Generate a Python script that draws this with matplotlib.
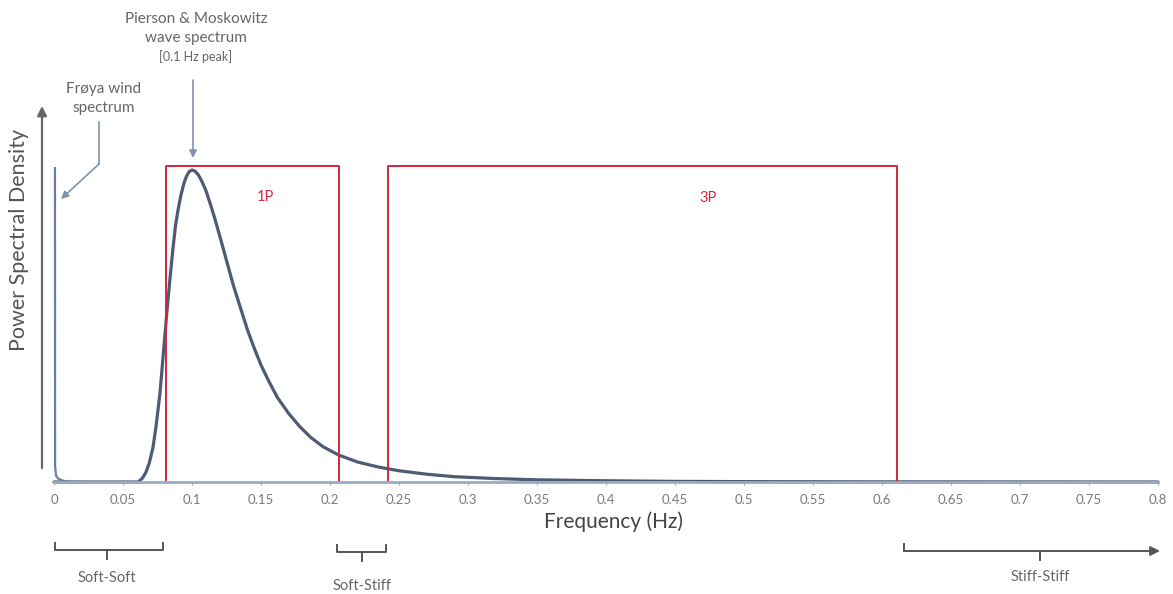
import matplotlib
matplotlib.use("Agg")
import matplotlib.pyplot as plt

plt.rcParams["font.family"] = ["Lato", "DejaVu Sans"]

# Pierson & Moskowitz wave spectrum (normalised PSD)
wave_f = [0.0, 0.05, 0.0609, 0.064, 0.0665, 0.069, 0.0717, 0.074, 0.0768, 0.079,
          0.0819, 0.084, 0.086, 0.088, 0.090, 0.092, 0.094, 0.096, 0.098, 0.100,
          0.102, 0.1045, 0.107, 0.110, 0.113, 0.1165, 0.120, 0.125, 0.130, 0.135,
          0.140, 0.145, 0.150, 0.156, 0.162, 0.170, 0.178, 0.186, 0.195, 0.206,
          0.220, 0.235, 0.250, 0.270, 0.290, 0.320, 0.350, 0.400, 0.450, 0.500,
          0.600, 0.800]
wave_psd = [0.0, 0.0, 0.0, 0.012, 0.03, 0.06, 0.11, 0.18, 0.285, 0.40,
            0.55, 0.65, 0.74, 0.82, 0.875, 0.92, 0.955, 0.98, 0.995, 1.0,
            0.997, 0.985, 0.965, 0.935, 0.895, 0.845, 0.79, 0.71, 0.63, 0.56,
            0.49, 0.43, 0.375, 0.32, 0.27, 0.22, 0.178, 0.143, 0.113, 0.087,
            0.064, 0.048, 0.036, 0.025, 0.017, 0.011, 0.007, 0.004, 0.002, 0.0012,
            0.0005, 0.0]

# Frøya wind spectrum (spike near 0 Hz)
wind_f = [0.0007, 0.0008, 0.0015, 0.003, 0.006, 0.009, 0.013, 0.02]
wind_psd = [1.006, 0.05, 0.02, 0.011, 0.005, 0.002, 0.0005, 0.0]

# excitation bands
band_names = ["1P", "3P"]
band_lo = [0.0812, 0.242]
band_hi = [0.2065, 0.611]
band_top = 1.013

x_ticks = [0, 0.05, 0.1, 0.15, 0.2, 0.25, 0.3, 0.35, 0.4, 0.45, 0.5,
           0.55, 0.6, 0.65, 0.7, 0.75, 0.8]
x_tick_labels = ["0", "0.05", "0.1", "0.15", "0.2", "0.25", "0.3", "0.35", "0.4",
                 "0.45", "0.5", "0.55", "0.6", "0.65", "0.7", "0.75", "0.8"]

W, H = 1173, 594
fig = plt.figure(figsize=(W / 100, H / 100), dpi=100)

# overlay in pixel coordinates for annotations
ov = fig.add_axes([0, 0, 1, 1])
ov.set_xlim(0, W)
ov.set_ylim(H, 0)
ov.axis("off")

# data axes: x 0..0.8 -> px 54..1158, y 0 at px 482, 1.0 at px 170
ymax = 1.2
bottom_px = 482
top_px = bottom_px - ymax * 312
ax = fig.add_axes([54 / W, 1 - bottom_px / H, 1104 / W, (bottom_px - top_px) / H])
ax.set_xlim(0, 0.8)
ax.set_ylim(0, ymax)
ax.patch.set_alpha(0)
for s in ["top", "right", "left"]:
    ax.spines[s].set_visible(False)
ax.spines["bottom"].set_color("#9aabc4")
ax.spines["bottom"].set_linewidth(2)
ax.set_yticks([])
ax.set_xticks(x_ticks)
ax.set_xticklabels(x_tick_labels)
ax.tick_params(axis="x", length=2, color="#9aabc4", labelsize=9.5,
               labelcolor="#7a7a7a", pad=7)

line_col = "#4f5b73"
ax.plot(wave_f, wave_psd, color=line_col, lw=2.3, solid_capstyle="round",
        solid_joinstyle="round", clip_on=False)
ax.plot(wind_f, wind_psd, color="#6d7d98", lw=1.6, clip_on=False)

red = "#d2283c"
for name, lo, hi in zip(band_names, band_lo, band_hi):
    ax.plot([lo, lo, hi, hi], [0, band_top, band_top, 0], color=red, lw=1.4, clip_on=False)
ax.text(0.1535, 0.915, "1P", color=red, fontsize=10.5, ha="center", va="center")
ax.text(0.474, 0.91, "3P", color=red, fontsize=10.5, ha="center", va="center")

fig.text(613 / W, 1 - 522 / H, "Frequency (Hz)", ha="center", va="center",
         fontsize=15, color="#444444")

# y axis arrow and label
ov.annotate("", xy=(42, 106), xytext=(42, 468),
            arrowprops=dict(arrowstyle="-|>", color="#666666", lw=1.6,
                            mutation_scale=14, shrinkA=0, shrinkB=0))
ov.text(19, 240, "Power Spectral Density", rotation=90, ha="center", va="center",
        fontsize=15.5, color="#555555")

# wave spectrum callout
txt_col = "#666666"
ov.text(196, 19, "Pierson & Moskowitz", ha="center", va="center", fontsize=11, color=txt_col)
ov.text(196, 38, "wave spectrum", ha="center", va="center", fontsize=11, color=txt_col)
ov.text(196, 57, "[0.1 Hz peak]", ha="center", va="center", fontsize=9, color=txt_col)
ov.annotate("", xy=(193, 158), xytext=(193, 80),
            arrowprops=dict(arrowstyle="-|>", color="#7f93ad", lw=1.2,
                            mutation_scale=11, shrinkA=0, shrinkB=0))

# wind spectrum callout
ov.text(104, 89, "Frøya wind", ha="center", va="center", fontsize=11, color=txt_col)
ov.text(104, 108, "spectrum", ha="center", va="center", fontsize=11, color=txt_col)
ov.plot([99, 99], [122, 164], color="#7f93ad", lw=1.2)
ov.annotate("", xy=(61, 199), xytext=(99, 164),
            arrowprops=dict(arrowstyle="-|>", color="#7f93ad", lw=1.2,
                            mutation_scale=11, shrinkA=0, shrinkB=0))

# stiffness brackets
br_col = "#555555"
def bracket(x0, x1, y, xc, label, ty):
    ov.plot([x0, x0, x1, x1], [y - 7, y, y, y - 7], color=br_col, lw=1.4)
    ov.plot([xc, xc], [y, y + 9], color=br_col, lw=1.4)
    ov.text(xc, ty, label, ha="center", va="center", fontsize=10.5, color=txt_col)

bracket(55, 163, 550, 107, "Soft-Soft", 578)
bracket(337, 386, 552, 362, "Soft-Stiff", 586)

ov.plot([904, 904], [544, 551], color=br_col, lw=1.4)
ov.annotate("", xy=(1160, 551), xytext=(904, 551),
            arrowprops=dict(arrowstyle="-|>", color=br_col, lw=1.4,
                            mutation_scale=14, shrinkA=0, shrinkB=0))
ov.plot([1040, 1040], [551, 560], color=br_col, lw=1.4)
ov.text(1040, 577, "Stiff-Stiff", ha="center", va="center", fontsize=10.5, color=txt_col)

fig.savefig("out.png", dpi=100)
